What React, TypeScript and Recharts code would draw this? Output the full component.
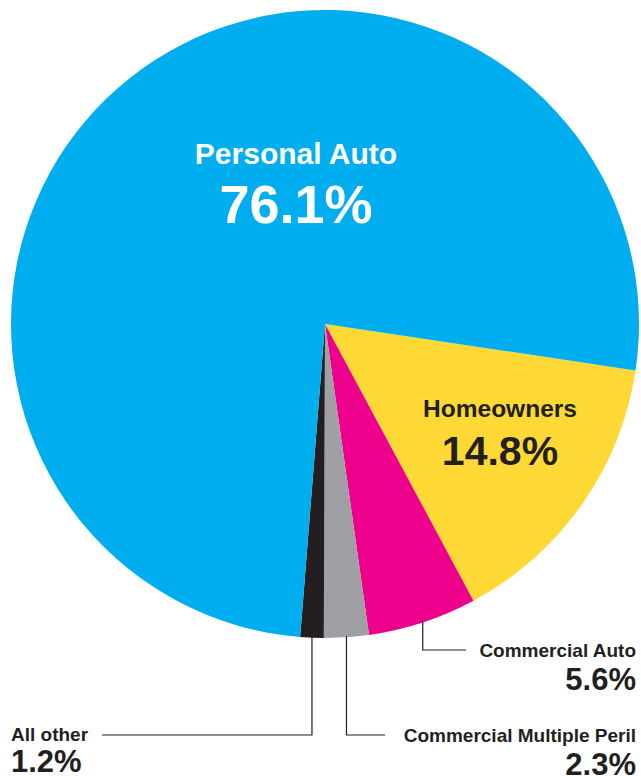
import { PieChart, Pie, Cell } from "recharts";

// Slices in clockwise order starting just below 3 o'clock
const categories = [
  "Homeowners",
  "Commercial Auto",
  "Commercial Multiple Peril",
  "All other",
  "Personal Auto",
];
const shares = [14.8, 5.6, 2.3, 1.2, 76.1];
const sliceColors = ["#fed935", "#ec008c", "#a0a0a4", "#231f20", "#00aeef"];

const data = categories.map((name, i) => ({ name, value: shares[i] }));

const INK = "#231f20";
const FONT = '"Liberation Sans", Arial, Helvetica, sans-serif';

// label layout (text placement only, leader start comes from the pie geometry)
type LabelLayout = {
  anchor: "start" | "middle" | "end";
  x: number;
  nameY: number;
  valueY: number;
  nameSize: number;
  valueSize: number;
  color: string;
  leaderY?: number;
  leaderEndX?: number;
};

const labelLayout: Record<string, LabelLayout> = {
  "Personal Auto": { anchor: "middle", x: 296, nameY: 164, valueY: 223, nameSize: 30, valueSize: 54, color: "#ffffff" },
  Homeowners: { anchor: "middle", x: 500, nameY: 417, valueY: 465, nameSize: 24.5, valueSize: 41, color: INK },
  "Commercial Auto": { anchor: "end", x: 636, nameY: 657, valueY: 690, nameSize: 19, valueSize: 31, color: INK, leaderY: 650, leaderEndX: 466 },
  "Commercial Multiple Peril": { anchor: "end", x: 636, nameY: 742, valueY: 775, nameSize: 19, valueSize: 31, color: INK, leaderY: 735, leaderEndX: 385 },
  "All other": { anchor: "start", x: 11, nameY: 741, valueY: 772, nameSize: 19, valueSize: 31, color: INK, leaderY: 735, leaderEndX: 102 },
};

const RAD = Math.PI / 180;

const renderLabel = (props: any) => {
  const { cx, cy, midAngle, outerRadius, name, value } = props;
  const l = labelLayout[name];
  if (!l) return null;
  let leader = null;
  if (l.leaderY !== undefined && l.leaderEndX !== undefined) {
    const sx = cx + outerRadius * Math.cos(-midAngle * RAD);
    const sy = cy + outerRadius * Math.sin(-midAngle * RAD);
    leader = (
      <path
        d={`M${sx},${sy - 1}V${l.leaderY}H${l.leaderEndX}`}
        fill="none"
        stroke={INK}
        strokeWidth={1.2}
      />
    );
  }
  return (
    <g key={name}>
      {leader}
      <text
        x={l.x}
        y={l.nameY}
        textAnchor={l.anchor}
        fill={l.color}
        fontFamily={FONT}
        fontWeight={700}
        fontSize={l.nameSize}
      >
        {name}
      </text>
      <text
        x={l.x}
        y={l.valueY}
        textAnchor={l.anchor}
        fill={l.color}
        fontFamily={FONT}
        fontWeight={700}
        fontSize={l.valueSize}
      >
        {`${Number(value).toFixed(1)}%`}
      </text>
    </g>
  );
};

export default function App() {
  return (
    <div style={{ position: "absolute", left: 0, top: 0, background: "#fff" }}>
      <PieChart width={641} height={776} margin={{ top: 0, right: 0, bottom: 0, left: 0 }}>
        <Pie
          data={data}
          dataKey="value"
          nameKey="name"
          cx={325}
          cy={324}
          outerRadius={314}
          startAngle={-8.5}
          endAngle={-368.5}
          stroke="none"
          label={renderLabel}
          labelLine={false}
          isAnimationActive={false}
        >
          {data.map((d, i) => (
            <Cell key={d.name} fill={sliceColors[i]} />
          ))}
        </Pie>
      </PieChart>
    </div>
  );
}
